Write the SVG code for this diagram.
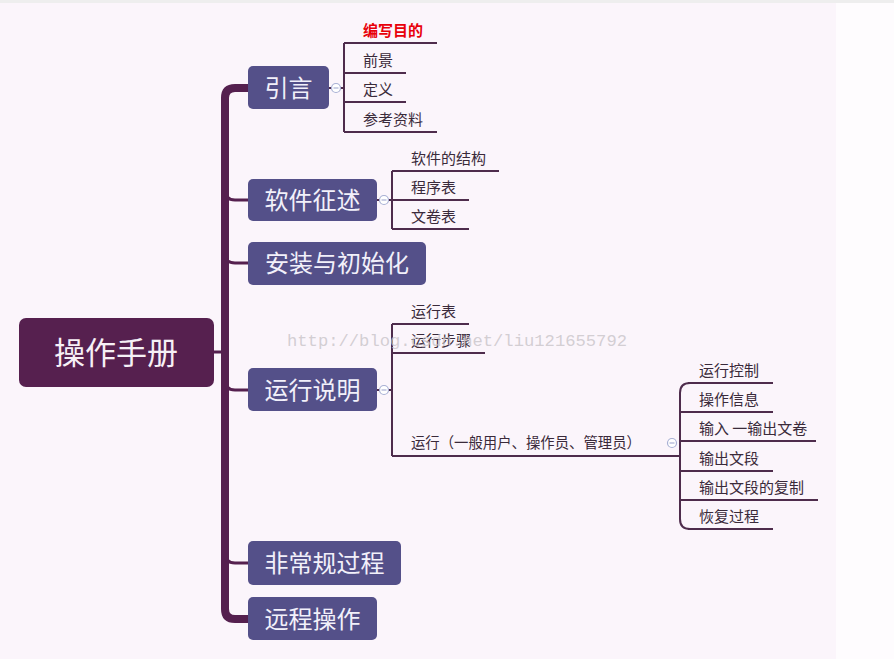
<svg xmlns="http://www.w3.org/2000/svg" width="894" height="659" viewBox="0 0 894 659">
<style>
.main{fill:#545089;}
.mt{font-family:"Noto Sans CJK SC",sans-serif;font-size:24px;fill:#f2f0fa;dominant-baseline:central;}
.st{font-family:"Noto Sans CJK SC",sans-serif;font-size:15px;fill:#3a2a3a;}
.ln{stroke:#4e2c4c;stroke-width:2;fill:none;}
.br{stroke:#55204f;stroke-width:3;fill:none;}
.cc{fill:#fff;stroke:#a8b0d4;stroke-width:1.2;}
.cm{stroke:#a8b0d4;stroke-width:1.2;}
</style>
<rect x="0" y="0" width="894" height="659" fill="#fefcfe"/>
<rect x="0" y="3" width="836" height="656" fill="#fbf5fb"/>
<rect x="0" y="0" width="894" height="3" fill="#eeeeee"/>

<g id="connectors">
  <path d="M 248 88 L 235 88 Q 225 88 225 98 L 225 609 Q 225 619 235 619 L 248 619" stroke="#55204f" stroke-width="8" fill="none"/>
  <line x1="214" y1="352" x2="225" y2="352" class="br"/>
  <path d="M 225 190 Q 225 200 235 200 L 248 200" class="br"/>
  <path d="M 225 253 Q 225 263 235 263 L 248 263" class="br"/>
  <path d="M 225 380 Q 225 390 235 390 L 248 390" class="br"/>
  <path d="M 225 553 Q 225 563 235 563 L 248 563" class="br"/>
  <line x1="329" y1="88" x2="344" y2="88" class="ln"/>
  <line x1="344" y1="43" x2="344" y2="132" class="ln"/>
  <line x1="344" y1="43" x2="437" y2="43" class="ln"/>
  <line x1="344" y1="73" x2="406" y2="73" class="ln"/>
  <line x1="344" y1="102" x2="406" y2="102" class="ln"/>
  <line x1="344" y1="132" x2="437" y2="132" class="ln"/>
  <line x1="377" y1="200" x2="392" y2="200" class="ln"/>
  <line x1="392" y1="171" x2="392" y2="229" class="ln"/>
  <line x1="392" y1="171" x2="499" y2="171" class="ln"/>
  <line x1="392" y1="200" x2="469" y2="200" class="ln"/>
  <line x1="392" y1="229" x2="469" y2="229" class="ln"/>
  <line x1="377" y1="390" x2="392" y2="390" class="ln"/>
  <line x1="392" y1="324" x2="392" y2="456" class="ln"/>
  <line x1="392" y1="324" x2="469" y2="324" class="ln"/>
  <line x1="392" y1="353" x2="485" y2="353" class="ln"/>
  <line x1="392" y1="456" x2="680" y2="456" class="ln"/>
  <path d="M 690 383 Q 680 383 680 393 L 680 519 Q 680 529 690 529" class="ln"/>
  <line x1="688" y1="383" x2="773" y2="383" class="ln"/>
  <line x1="680" y1="412" x2="773" y2="412" class="ln"/>
  <line x1="680" y1="441" x2="816" y2="441" class="ln"/>
  <line x1="680" y1="471" x2="773" y2="471" class="ln"/>
  <line x1="680" y1="500" x2="818" y2="500" class="ln"/>
  <line x1="688" y1="529" x2="773" y2="529" class="ln"/>
  <circle cx="336" cy="88" r="4.5" class="cc"/><line x1="333.5" y1="88" x2="338.5" y2="88" class="cm"/>
  <circle cx="384" cy="200" r="4.5" class="cc"/><line x1="381.5" y1="200" x2="386.5" y2="200" class="cm"/>
  <circle cx="384" cy="390" r="4.5" class="cc"/><line x1="381.5" y1="390" x2="386.5" y2="390" class="cm"/>
  <circle cx="672" cy="443" r="4.5" class="cc"/><line x1="669.5" y1="443" x2="674.5" y2="443" class="cm"/>
</g>

<g id="root">
  <rect x="19" y="318" width="195" height="69" rx="7" fill="#56204f"/>
  <text x="116" y="350" text-anchor="middle" font-family="Noto Sans CJK SC,sans-serif" font-size="31" fill="#f6f0f6" dominant-baseline="central">操作手册</text>
</g>

<g id="n-yinyan"><rect x="248" y="66" width="81" height="43" rx="5" class="main"/><text x="288.5" y="86" text-anchor="middle" class="mt">引言</text></g>
<g id="n-ruanjian"><rect x="248" y="179" width="129" height="42" rx="5" class="main"/><text x="312.5" y="198" text-anchor="middle" class="mt">软件征述</text></g>
<g id="n-anzhuang"><rect x="248" y="242" width="178" height="43" rx="5" class="main"/><text x="337" y="261" text-anchor="middle" class="mt">安装与初始化</text></g>
<g id="n-yunxing"><rect x="248" y="368" width="129" height="43" rx="5" class="main"/><text x="312.5" y="388" text-anchor="middle" class="mt">运行说明</text></g>
<g id="n-feichang"><rect x="248" y="541" width="153" height="44" rx="5" class="main"/><text x="324.5" y="561" text-anchor="middle" class="mt">非常规过程</text></g>
<g id="n-yuancheng"><rect x="248" y="597" width="129" height="43" rx="5" class="main"/><text x="312.5" y="617" text-anchor="middle" class="mt">远程操作</text></g>

<g id="sub-yinyan">
  <text x="363" y="36" class="st" style="fill:#e8000a;font-weight:bold">编写目的</text>
  <text x="363" y="66" class="st">前景</text>
  <text x="363" y="95" class="st">定义</text>
  <text x="363" y="125" class="st">参考资料</text>
</g>
<g id="sub-ruanjian">
  <text x="411" y="164" class="st">软件的结构</text>
  <text x="411" y="193" class="st">程序表</text>
  <text x="411" y="222" class="st">文卷表</text>
</g>
<g id="sub-yunxing">
  <text x="411" y="317" class="st">运行表</text>
  <text x="411" y="346" class="st">运行步骤</text>
  <text x="411" y="448" class="st" textLength="230" lengthAdjust="spacingAndGlyphs">运行（一般用户、操作员、管理员）</text>
</g>
<g id="sub-yunxing2">
  <text x="699" y="376" class="st">运行控制</text>
  <text x="699" y="405" class="st">操作信息</text>
  <text x="699" y="434" class="st">输入 一输出文卷</text>
  <text x="699" y="464" class="st">输出文段</text>
  <text x="699" y="493" class="st">输出文段的复制</text>
  <text x="699" y="522" class="st">恢复过程</text>
</g>
<text x="287" y="346" font-family="Liberation Mono,monospace" font-size="17" fill="#c9c4c9" fill-opacity="0.8" textLength="340" lengthAdjust="spacingAndGlyphs">http://blog.csdn.net/liu121655792</text>
</svg>
